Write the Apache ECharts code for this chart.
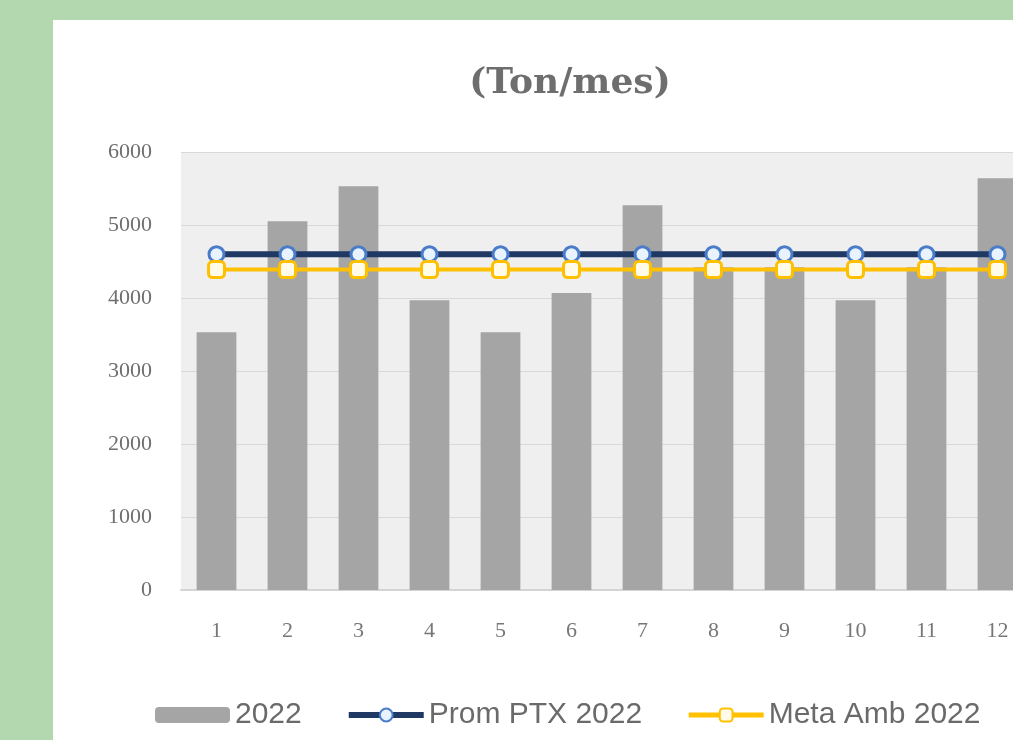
<!DOCTYPE html>
<html>
<head>
<meta charset="utf-8">
<script src="https://cdn.jsdelivr.net/npm/echarts@6/dist/echarts.min.js"></script>
<style>
    html, body { margin: 0; padding: 0; width: 1013px; height: 740px; overflow: hidden; background: #b3d8b0; position: relative; }
    #panel { position: absolute; left: 53px; top: 20px; width: 1010px; height: 720px; background: #fff; }
</style>
</head>
<body>
<div id="panel"></div>
<script>
// datos
let meses = ['1', '2', '3', '4', '5', '6', '7', '8', '9', '10', '11', '12']
let valores2022 = [3530, 5050, 5530, 3970, 3530, 4070, 5270, 4420, 4420, 3970, 4420, 5640]
let promPtx2022 = [4600, 4600, 4600, 4600, 4600, 4600, 4600, 4600, 4600, 4600, 4600, 4600]
let metaAmb2022 = [4390, 4390, 4390, 4390, 4390, 4390, 4390, 4390, 4390, 4390, 4390, 4390]
let ejeY = [0, 1000, 2000, 3000, 4000, 5000, 6000]

let myChart = echarts.init(document.getElementById('panel'))
let option = {
    animation: false,
    title: {
        text: '(Ton/mes)',
        left: 512,
        textAlign: 'center',
        top: 41,
        textStyle: {
            fontFamily: 'DejaVu Serif',
            fontWeight: 'bold',
            fontSize: 36,
            color: '#6e6e6e'
        }
    },
    legend: {
        left: 97,
        top: 675,
        itemWidth: 75,
        itemHeight: 16,
        itemGap: 44,
        textStyle: {
            fontFamily: 'Liberation Sans',
            fontSize: 30,
            color: '#6a6a6a'
        },
        data: [
            { name: '2022' },
            { name: 'Prom PTX 2022', lineStyle: { width: 6 } },
            { name: 'Meta Amb 2022', lineStyle: { width: 5 } }
        ]
    },
    grid: {
        left: 128,
        top: 132,
        width: 852,
        height: 438,
        show: true,
        backgroundColor: '#efefef',
        borderWidth: 0
    },
    xAxis: {
        type: 'category',
        data: meses,
        axisLine: { lineStyle: { color: '#d4d4d4', width: 2 } },
        axisTick: { show: false },
        axisLabel: {
            margin: 30,
            fontFamily: 'Liberation Serif',
            fontSize: 22,
            color: '#777'
        }
    },
    yAxis: {
        type: 'value',
        min: ejeY[0],
        max: ejeY[ejeY.length - 1],
        interval: 1000,
        axisLine: { show: false },
        axisTick: { show: false },
        splitLine: { lineStyle: { color: '#d9d9d9', width: 1 } },
        axisLabel: {
            margin: 29,
            fontFamily: 'Liberation Serif',
            fontSize: 22,
            color: '#6f6f6f',
            formatter: function (v) { return String(v) }
        }
    },
    series: [
        {
            name: '2022',
            type: 'bar',
            data: valores2022,
            barCategoryGap: '44%',
            itemStyle: { color: '#a5a5a5' }
        },
        {
            name: 'Prom PTX 2022',
            type: 'line',
            data: promPtx2022,
            symbol: 'circle',
            symbolSize: 15,
            lineStyle: { color: '#1f3864', width: 6 },
            itemStyle: { color: '#e8f3ff', borderColor: '#4a7cc8', borderWidth: 3 }
        },
        {
            name: 'Meta Amb 2022',
            type: 'line',
            data: metaAmb2022,
            symbol: 'roundRect',
            symbolSize: 16,
            lineStyle: { color: '#ffc000', width: 4 },
            itemStyle: { color: '#fffbe8', borderColor: '#ffc000', borderWidth: 3 }
        }
    ]
}
myChart.setOption(option)
</script>
</body>
</html>
